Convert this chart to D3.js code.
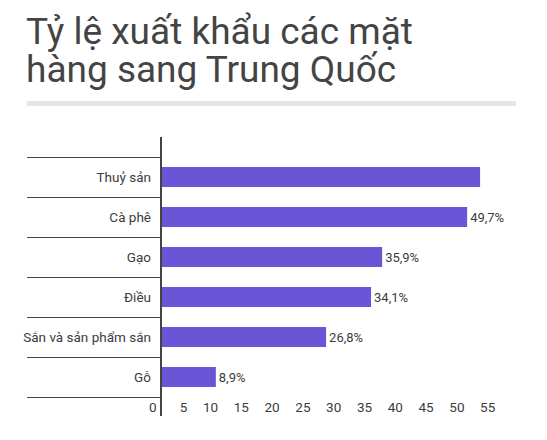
<!DOCTYPE html>
<html><head><meta charset="utf-8">
<script src="https://cdn.jsdelivr.net/npm/d3@7"></script>
<style>
body{margin:0;background:#fff;}
svg text{font-family:Roboto, "Noto Sans", sans-serif;}
</style></head>
<body><svg id="c" width="547" height="440"></svg>
<script>
const titleLines = ["Tỷ lệ xuất khẩu các mặt", "hàng sang Trung Quốc"];
const categories = ["Thuỷ sản", "Cà phê", "Gạo", "Điều", "Sắn và sản phẩm sắn", "Gỗ"];
const values = [51.8, 49.7, 35.9, 34.1, 26.8, 8.9];
const valueLabels = ["", "49,7%", "35,9%", "34,1%", "26,8%", "8,9%"];
const tickValues = [0, 5, 10, 15, 20, 25, 30, 35, 40, 45, 50, 55];

const svg = d3.select("#c");
const ink = "#444";
const labelInk = "#3c3c3c";

const title = svg.append("text").attr("x", 26).attr("y", 44)
  .attr("font-size", 37).attr("fill", ink);
title.selectAll("tspan").data(titleLines).join("tspan")
  .attr("x", 26).attr("dy", (d, i) => i === 0 ? 0 : 38).text(d => d);

svg.append("rect").attr("x", 27).attr("y", 101).attr("width", 489).attr("height", 5).attr("fill", "#e6e6e6");

const x = d3.scaleLinear().domain([0, 55]).range([161, 161 + 55 * 6.16]);
const band = d3.scaleBand().domain(categories).range([157, 397]);

// row separator lines
const seps = [157].concat(categories.map(c => band(c) + band.bandwidth()));
svg.append("g").selectAll("line").data(seps).join("line")
  .attr("x1", 27).attr("x2", 161).attr("y1", d => d + 0.5).attr("y2", d => d + 0.5)
  .attr("stroke", ink).attr("stroke-width", 1);

// bars
svg.append("g").selectAll("rect").data(categories).join("rect")
  .attr("x", x(0) + 1).attr("y", c => band(c) + 10)
  .attr("width", (c, i) => x(values[i]) - x(0) - 1).attr("height", 20)
  .attr("fill", "#6a55d6");

// category labels
svg.append("g").selectAll("text").data(categories).join("text")
  .attr("x", 151).attr("y", c => band(c) + band.bandwidth() / 2)
  .attr("dy", "0.35em").attr("text-anchor", "end")
  .attr("font-size", 13.5).attr("fill", labelInk).text(c => c);

// value labels
svg.append("g").selectAll("text").data(categories).join("text")
  .attr("x", (c, i) => x(values[i]) + 3).attr("y", c => band(c) + band.bandwidth() / 2)
  .attr("dy", "0.35em").attr("font-size", 13).attr("fill", labelInk)
  .text((c, i) => valueLabels[i]);

// x axis
const axis = d3.axisBottom(x).tickValues(tickValues).tickSize(0).tickPadding(0);
const ag = svg.append("g").attr("transform", "translate(0,402)").call(axis);
ag.select(".domain").remove();
ag.selectAll("text").attr("font-size", 13.5).attr("fill", labelInk)
  .attr("text-anchor", "end").attr("x", -5).attr("dy", "0.71em")
  .style("font-family", "Roboto, sans-serif");

// vertical axis line
svg.append("line").attr("x1", 161).attr("x2", 161).attr("y1", 137).attr("y2", 416)
  .attr("stroke", ink).attr("stroke-width", 2);
</script></body></html>
